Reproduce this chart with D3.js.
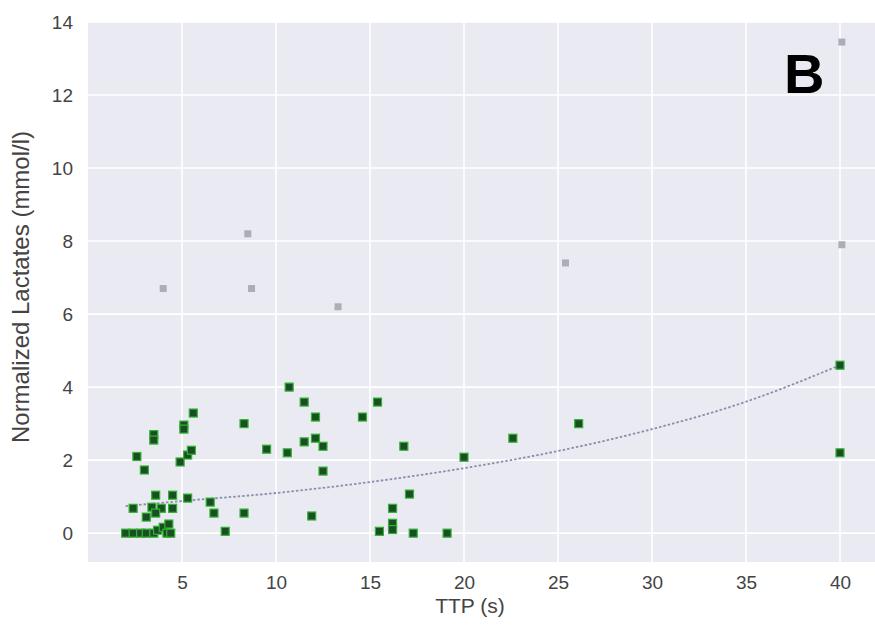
<!DOCTYPE html>
<html lang="en">

<head>
    <meta charset="UTF-8">
    <title>TTP vs lactates</title>
    <script src="https://d3js.org/d3.v7.min.js"></script>
    <style>
        body { margin: 0; background: #fff; }
        text { font-family: "Liberation Sans", Arial, sans-serif; }
    </style>
</head>

<body>
    <div id="chart"></div>
    <script>

        // green points (TTP in s, normalized lactates in mmol/l)
        const ttp = [
            2.0, 2.4, 2.8, 3.1, 3.5, 3.7, 4.0, 4.3, 4.2, 4.4,
            2.4, 3.4, 3.9, 4.5, 3.1, 3.6, 3.6, 4.5, 5.3,
            3.5, 3.5, 2.6, 3.0, 5.1, 5.1, 5.6, 4.9, 5.3, 5.5,
            8.3, 9.5, 10.6, 10.7, 11.5, 12.1, 11.5, 12.1, 12.5, 12.5,
            6.5, 6.7, 8.3, 7.3, 11.9,
            15.4, 14.6, 16.8, 20.0, 17.1, 16.2, 16.2, 16.2, 15.5, 17.3, 19.1,
            22.6, 26.1, 40.0, 40.0
        ];
        const lactate = [
            0.0, 0.0, 0.0, 0.0, 0.0, 0.08, 0.16, 0.25, 0.0, 0.0,
            0.68, 0.71, 0.68, 0.68, 0.44, 0.55, 1.04, 1.04, 0.96,
            2.7, 2.55, 2.1, 1.73, 2.96, 2.85, 3.29, 1.95, 2.14, 2.27,
            3.0, 2.3, 2.2, 4.0, 3.59, 3.18, 2.5, 2.6, 2.38, 1.7,
            0.85, 0.55, 0.55, 0.05, 0.47,
            3.59, 3.18, 2.38, 2.08, 1.07, 0.68, 0.27, 0.1, 0.05, 0.0, 0.0,
            2.6, 3.0, 4.6, 2.2
        ];

        // grey outliers
        const outTtp = [4.0, 8.5, 8.7, 13.3, 25.4, 40.1, 40.1];
        const outLactate = [6.7, 8.2, 6.7, 6.2, 7.4, 7.9, 13.45];

        // fitted trend
        const fitTtp = [2, 5, 10, 15, 20, 25, 30, 35, 40];
        const fitLactate = [0.74, 0.88, 1.1, 1.4, 1.78, 2.25, 2.85, 3.6, 4.6];

        const xTicks = [5, 10, 15, 20, 25, 30, 35, 40];
        const yTicks = [0, 2, 4, 6, 8, 10, 12, 14];

        const width = 875, height = 634;
        const margin = { top: 22, right: 0, bottom: 72, left: 88 };

        const svg = d3.select("#chart")
            .append("svg")
            .attr("width", width)
            .attr("height", height);

        const x = d3.scaleLinear().domain([0, 42]).range([margin.left, margin.left + 42 * 18.8]);
        const y = d3.scaleLinear().domain([-0.79, 14.0]).range([height - margin.bottom, margin.top]);

        // plot background
        svg.append("rect")
            .attr("x", margin.left)
            .attr("y", margin.top)
            .attr("width", width - margin.left)
            .attr("height", height - margin.bottom - margin.top)
            .attr("fill", "#eaeaf2");

        // grid
        svg.append("g")
            .selectAll("line.gx")
            .data(xTicks)
            .join("line")
            .attr("x1", d => x(d)).attr("x2", d => x(d))
            .attr("y1", margin.top).attr("y2", height - margin.bottom)
            .attr("stroke", "#fff").attr("stroke-width", 1.6);

        svg.append("g")
            .selectAll("line.gy")
            .data(yTicks)
            .join("line")
            .attr("x1", margin.left).attr("x2", width)
            .attr("y1", d => y(d)).attr("y2", d => y(d))
            .attr("stroke", "#fff").attr("stroke-width", 1.6);

        // axes, no domain or tick lines
        const xAxis = svg.append("g")
            .attr("transform", `translate(0,${height - margin.bottom})`)
            .call(d3.axisBottom(x).tickValues(xTicks).tickSize(0).tickPadding(14));
        const yAxis = svg.append("g")
            .attr("transform", `translate(${margin.left},0)`)
            .call(d3.axisLeft(y).tickValues(yTicks).tickSize(0).tickPadding(15));

        [xAxis, yAxis].forEach(a => {
            a.select(".domain").remove();
            a.selectAll("text")
                .attr("fill", "#444")
                .style("font-size", "19px")
                .style("font-family", "'Liberation Sans', Arial, sans-serif");
        });

        // trend line
        const fit = fitTtp.map((d, i) => [d, fitLactate[i]]);
        svg.append("path")
            .datum(fit)
            .attr("fill", "none")
            .attr("stroke", "#8a8dac")
            .attr("stroke-width", 1.8)
            .attr("stroke-dasharray", "2.5,2")
            .attr("d", d3.line().x(d => x(d[0])).y(d => y(d[1])).curve(d3.curveMonotoneX));

        // outliers
        svg.append("g")
            .selectAll("rect")
            .data(outTtp.map((d, i) => [d, outLactate[i]]))
            .join("rect")
            .attr("x", d => x(d[0]) - 3.5)
            .attr("y", d => y(d[1]) - 3.5)
            .attr("width", 7)
            .attr("height", 7)
            .attr("fill", "#adadb8");

        // green points
        svg.append("g")
            .selectAll("rect")
            .data(ttp.map((d, i) => [d, lactate[i]]))
            .join("rect")
            .attr("x", d => x(d[0]) - 4)
            .attr("y", d => y(d[1]) - 4)
            .attr("width", 8)
            .attr("height", 8)
            .attr("fill", "#1d4d26")
            .attr("stroke", "#2fb52f")
            .attr("stroke-width", 1.2);

        // panel letter
        svg.append("text")
            .attr("x", 784)
            .attr("y", 93)
            .attr("font-size", 56)
            .attr("font-weight", "bold")
            .attr("fill", "#000")
            .text("B");

        // axis labels
        svg.append("text")
            .attr("x", 470)
            .attr("y", 613)
            .attr("text-anchor", "middle")
            .attr("font-size", 21)
            .attr("fill", "#444")
            .text("TTP (s)");

        svg.append("text")
            .attr("transform", `translate(29,${(margin.top + height - margin.bottom) / 2 - 5}) rotate(-90)`)
            .attr("text-anchor", "middle")
            .attr("font-size", 24)
            .attr("fill", "#444")
            .text("Normalized Lactates (mmol/l)");
    </script>
</body>

</html>
